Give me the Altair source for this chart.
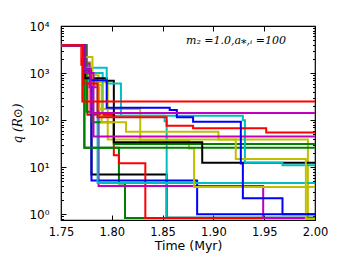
import altair as alt
import pandas as pd

# color codes (matplotlib classic)
COLORS = {"b": "#0000ff", "g": "#008000", "r": "#ff0000", "c": "#00bfbf",
          "m": "#bf00bf", "y": "#bfbf00", "k": "#000000"}

T_END = 2.0

# each series: (colour code, step times, step values); value holds until next time
s01 = ("y", [1.75, 1.771, 1.779, 1.796, 1.993], [3900, 1700, 650, 39, 0.8])
s02 = ("g", [1.75, 1.773, 1.807, 1.813], [3900, 26, 4.5, 0.83])
s03 = ("k", [1.75, 1.775, 1.780, 1.854], [3900, 1100, 7.0, 0.85])
s04 = ("c", [1.75, 1.772, 1.791, 1.852, 1.854], [3900, 1000, 124, 95, 0.85])
s05 = ("r", [1.75, 1.770, 1.776, 1.802, 1.807, 1.833], [3900, 1500, 130, 18, 12.2, 0.83])
s06 = ("m", [1.75, 1.772, 1.778, 1.787, 1.949], [3900, 1600, 500, 4.0, 0.83])
s07 = ("b", [1.75, 1.774, 1.780, 1.884], [3900, 900, 5.2, 1.0])
s08 = ("c", [1.75, 1.775, 1.786], [3900, 700, 4.6])
s09 = ("y", [1.75, 1.772, 1.787, 1.828, 1.876, 1.881], [3900, 900, 173, 37, 25, 3.8])
s10 = ("g", [1.75, 1.775, 1.781, 1.802], [3900, 150, 90, 31])
s11 = ("g", [1.75, 1.773], [3900, 26])
s12 = ("k", [1.75, 1.7735, 1.795, 1.802, 1.889], [3900, 776, 690, 34, 12.4])
s13 = ("c", [1.75, 1.772, 1.795, 1.809, 1.929, 1.931, 1.968], [3900, 1300, 600, 124, 100, 12.5, 11])
s14 = ("y", [1.75, 1.771, 1.781, 1.790, 1.814, 1.905, 1.922, 1.991], [3900, 2200, 560, 90, 57, 39, 15, 0.8])
s15 = ("m", [1.75, 1.774, 1.782], [3900, 1000, 45])
s16 = ("r", [1.75, 1.772, 1.786, 1.854, 1.880, 1.952], [3900, 600, 115, 76, 67, 55])
s17 = ("b", [1.75, 1.772, 1.779, 1.795, 1.857, 1.864, 1.880, 1.927, 1.929, 1.968],
       [3900, 1200, 700, 183, 164, 115, 93, 12, 2.2, 1.0])
s18 = ("m", [1.75, 1.772, 1.779], [3900, 1200, 142])
s19 = ("r", [1.75, 1.771], [3900, 250])

SERIES = [s01, s02, s03, s04, s05, s06, s07, s08, s09, s10,
          s11, s12, s13, s14, s15, s16, s17, s18, s19]

x_ticks = [1.75, 1.80, 1.85, 1.90, 1.95, 2.00]
y_major = [1, 10, 100, 1000, 10000]
y_minor = [m * 10 ** k for k in range(-1, 4) for m in range(2, 10)]
y_minor = [v for v in y_minor if 0.757 <= v <= 10000]

rows = []
for i, (c, ts, qs) in enumerate(SERIES):
    sid = f"s{i:02d}"
    for t, q in zip(ts, qs):
        rows.append({"sid": sid, "col": c, "t": t, "q": q})
    rows.append({"sid": sid, "col": c, "t": T_END, "q": qs[-1]})
df = pd.DataFrame(rows)

sids = [f"s{i:02d}" for i in range(len(SERIES))]
scol = [COLORS[s[0]] for s in SERIES]

xs = alt.Scale(domain=[1.75, 2.0], nice=False, zero=False)
ys = alt.Scale(type="log", domain=[0.757, 10000], nice=False)

FONT = "DejaVu Sans"
ylab = ("datum.value >= 9999 ? '10\u2074' : datum.value >= 999 ? '10\u00b3' : "
        "datum.value >= 99 ? '10\u00b2' : datum.value >= 9 ? '10\u00b9' : '10\u2070'")

base = alt.Chart(df)

lines = base.mark_line(interpolate="step-after", strokeWidth=2, clip=True).encode(
    x=alt.X("t:Q", scale=xs, axis=alt.Axis(values=x_ticks, format=".2f", ticks=False,
            domain=False, grid=False, labelFlush=False, labelOverlap=False,
            labelFont=FONT, labelFontSize=11.5, labelColor="black",
            labelPadding=6, title="Time (Myr)", titleFont=FONT, titleFontSize=12.5,
            titleFontWeight="normal", titleColor="black", titlePadding=2)),
    y=alt.Y("q:Q", scale=ys, axis=alt.Axis(values=y_major, labelExpr=ylab, ticks=False,
            domain=False, grid=False, labelFlush=False, labelOverlap=False,
            labelFont=FONT, labelFontSize=12, labelColor="black",
            labelPadding=12, title="q (R\u2299)", titleFont="DejaVu Serif",
            titleFontStyle="italic", titleFontSize=12, titleFontWeight="normal",
            titleColor="black", titlePadding=4)),
    color=alt.Color("sid:N", scale=alt.Scale(domain=sids, range=scol), legend=None),
    order=alt.Order("sid:N"),
    detail="sid:N",
)

def tick_axis(orient, vals, size):
    return alt.Axis(orient=orient, values=vals, labels=False, domain=False, grid=False,
                    ticks=True, tickSize=size, tickColor="black", tickWidth=1,
                    offset=-size, title=None)

ghost = base.mark_point(opacity=0)
t1 = ghost.encode(x=alt.X("t:Q", scale=xs, axis=tick_axis("bottom", x_ticks, 5)),
                  y=alt.Y("q:Q", scale=ys, axis=tick_axis("left", y_major, 5)))
t2 = ghost.encode(x=alt.X("t:Q", scale=xs, axis=tick_axis("top", x_ticks, 5)),
                  y=alt.Y("q:Q", scale=ys, axis=tick_axis("right", y_major, 5)))
t3 = ghost.encode(x=alt.X("t:Q", scale=xs, axis=None),
                  y=alt.Y("q:Q", scale=ys, axis=tick_axis("left", y_minor, 2.5)))
t4 = ghost.encode(x=alt.X("t:Q", scale=xs, axis=None),
                  y=alt.Y("q:Q", scale=ys, axis=tick_axis("right", y_minor, 2.5)))

note = alt.Chart(pd.DataFrame({"txt": ["m\u2082 =1.0,a\u204e,\u1d62 =100"]})).mark_text(
    font="DejaVu Serif", fontStyle="italic", fontSize=11, color="black", align="center",
    baseline="middle").encode(text="txt:N", x=alt.value(175), y=alt.value(15))

chart = alt.layer(lines, t1, t2, t3, t4, note).resolve_axis(
    x="independent", y="independent").properties(
    width=254, height=194,
    padding={"left": 53, "top": 18, "right": 27, "bottom": 36},
    autosize=alt.AutoSizeParams(type="none"),
).configure_view(stroke="black", strokeWidth=1.2)

chart.save("out.html", embed_options={"renderer": "svg", "actions": False})
